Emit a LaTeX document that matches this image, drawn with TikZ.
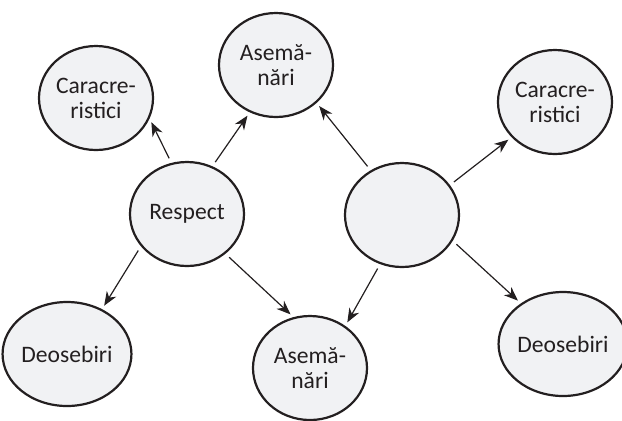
\documentclass[tikz,border=0pt]{standalone}
\usepackage{fontspec}
\setmainfont{Carlito}
\usepackage{tikz}
\usetikzlibrary{
    arrows.meta,
    shapes.geometric
}
\definecolor{bubblefill}{RGB}{241,242,244}
\definecolor{inkgray}{RGB}{35,31,32}

\begin{document}
\begin{tikzpicture}[x=0.5pt, y=0.5pt,
    bubble/.style={ellipse, draw=inkgray, line width=1.1pt, fill=bubblefill,
        minimum width=57pt, minimum height=52pt, inner sep=0pt, align=center,
        text=inkgray, font=\fontsize{11.8}{12.5}\selectfont},
    link/.style={-{Stealth[length=7pt, width=5.5pt, inset=2.2pt]}, line width=0.6pt,
        draw=inkgray, shorten <=2.5pt, shorten >=2pt}]
                        \useasboundingbox (0,0) rectangle (622,-420);
                        \node[bubble] (car1) at (96,-98) {Caracre-\\ristici};
                        \node[bubble] (asem1) at (276,-65) {Asemă-\\nări};
                        \node[bubble] (resp) at (187,-214) {Respect};
                        \node[bubble] (deos1) at (67,-354) {Deosebiri};
                        \node[bubble] (asem2) at (310,-368) {Asemă-\\nări};
                        \node[bubble] (blank) at (402,-215) {};
                        \node[bubble] (car2) at (555,-102) {Caracre-\\ristici};
                        \node[bubble] (deos2) at (563,-344) {Deosebiri};

                        \draw
                        (resp.107) edge[link] (car1.-21)
                        (resp.62) edge[link] (asem1.-119)
                        (resp.-145) edge[link] (deos1.52)
                        (resp.-46) edge[link] (asem2.108)
                        (blank.125) edge[link] (asem1.-43)
                        (blank.32) edge[link] (car2.-141)
                        (blank.-114) edge[link] (asem2.50)
                        (blank.-27) edge[link] (deos2.136);
                    \end{tikzpicture}
\end{document}
